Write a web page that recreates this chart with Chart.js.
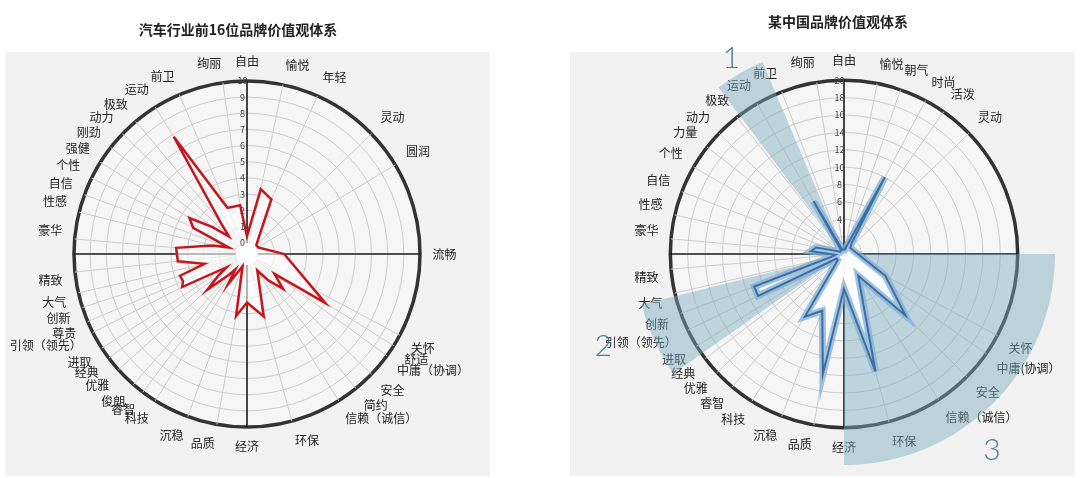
<!DOCTYPE html>
<html>
<head>
<meta charset="utf-8">
<script src="https://cdn.jsdelivr.net/npm/chart.js@4.4.1/dist/chart.umd.min.js"></script>
<style>
  html, body { margin: 0; padding: 0; background: #fff; }
  body { width: 1080px; height: 478px; position: relative; overflow: hidden; }
  .panel { position: absolute; top: 52px; height: 424px; background: #f2f2f2; }
  .box { position: absolute; top: 0; height: 478px; }
</style>
</head>
<body>
<div class="panel" style="left:5px;width:485px"></div>
<div class="panel" style="left:570px;width:505px"></div>
<div class="box" style="left:0;width:494px"><canvas id="leftChart"></canvas></div>
<div class="box" style="left:591px;width:480px"><canvas id="rightChart"></canvas></div>
<script>
// Data -----------------------------------------------------------

// 汽车行业前16位品牌 (angle = spoke direction, degrees clockwise from top)
const leftNames = ['自由', '愉悦', '年轻', '灵动', '圆润', '流畅', '关怀', '舒适', '中庸（协调）', '安全',
  '简约', '信赖（诚信）', '环保', '经济', '品质', '沉稳', '科技', '睿智', '俊朗', '优雅',
  '经典', '进取', '引领（领先）', '尊贵', '创新', '大气', '精致', '豪华', '性感', '自信',
  '个性', '强健', '刚劲', '动力', '极致', '运动', '前卫', '绚丽'];
const leftAngles = [0, 12, 24, 46, 59, 90, 118, 122, 126, 134,
  141, 148, 165, 180, 190, 200, 212, 217, 221, 228,
  233, 237, 243, 247, 252, 257, 264, 275, 284, 290,
  296, 302, 308, 314, 320, 328, 337, 352];
const leftValues = [0.4, 3.4, 3.0, 0.1, 0.1, 1.6, 4.0, 5.0, 1.4, 2.4,
  1.4, 0.5, 3.3, 2.3, 3.2, 0.1, 1.5, 0.5, 1.0, 2.6,
  1.5, 0.8, 3.8, 3.6, 3.65, 2.0, 3.6, 3.7, 1.5, 0.5,
  3.0, 3.5, 2.0, 0.85, 1.8, 7.85, 2.4, 2.35];
const leftTitle = '汽车行业前16位品牌价值观体系';

// 某中国品牌
const rightNames = ['自由', '愉悦', '朝气', '时尚', '活泼', '灵动', '关怀', '中庸(协调）', '安全', '信赖（诚信）',
  '环保', '经济', '品质', '沉稳', '科技', '睿智', '优雅', '经典', '进取', '引领（领先）',
  '创新', '大气', '精致', '豪华', '性感', '自信', '个性', '力量', '动力', '极致',
  '运动', '前卫', '绚丽'];
const rightAngles = [0, 11, 19, 28, 35, 46, 118, 125, 135, 147,
  165, 180, 190, 201, 212, 220, 227, 233, 238, 244,
  250, 257, 265, 275, 283, 291, 300, 308, 314, 322,
  330, 339, 351];
const rightValues = [0.5, 0.5, 1, 10, 1.5, 1, 5.4, 6.6, 10, 3,
  14, 4, 14, 7, 8.5, 1.5, 1, 1, 1, 11,
  11, 1.5, 1, 3.8, 3.3, 1, 0.5, 0.5, 0.5, 0.5,
  7, 0.5, 0.5];
const rightTitle = '某中国品牌价值观体系';

// highlighted sectors on the right chart: [from deg, to deg, outer value], with their note numbers
const sectorFrom = [323, 235, 90];
const sectorTo = [337, 256, 180];
const sectorReach = [24, 24, 24.3];
const sectorNotes = ['1', '2', '3'];
const noteAngles = [330, 249, 143];
const noteReach = [26, 29.7, 28.3];

// Helpers -------------------------------------------------------

const SLOTS = 360; // one slot per degree

function slotLabels(names, angles) {
  const arr = new Array(SLOTS).fill('');
  angles.forEach((a, i) => { arr[Math.round(a) % SLOTS] = names[i]; });
  return arr;
}

function slotValues(values, angles) {
  const arr = new Array(SLOTS).fill(null);
  angles.forEach((a, i) => { arr[Math.round(a) % SLOTS] = values[i]; });
  return arr;
}

function sectorValues(from, to, reach) {
  const arr = new Array(SLOTS).fill(0);
  for (let a = from; a <= to; a++) arr[a % SLOTS] = reach;
  return arr;
}

function isAxis(i) { return i % 90 === 0; }

const FONT = '"Noto Sans CJK SC", "Noto Sans", sans-serif';

// draws the plot disc background and the empty centre
const discPlugin = {
  id: 'disc',
  beforeDraw(chart, args, opts) {
    const s = chart.scales.r;
    const ctx = chart.ctx;
    ctx.save();
    ctx.fillStyle = '#f6f6f6';
    ctx.beginPath();
    ctx.arc(s.xCenter, s.yCenter, s.drawingArea, 0, Math.PI * 2);
    ctx.fill();
    ctx.restore();
  },
  beforeDatasetsDraw(chart, args, opts) {
    if (!opts.hole) return;
    const s = chart.scales.r;
    const ctx = chart.ctx;
    ctx.save();
    ctx.fillStyle = '#ffffff';
    ctx.beginPath();
    ctx.arc(s.xCenter, s.yCenter, s.getDistanceFromCenterForValue(0), 0, Math.PI * 2);
    ctx.fill();
    ctx.restore();
  }
};

// big numbers next to the highlighted sectors
const notePlugin = {
  id: 'notes',
  afterDatasetsDraw(chart, args, opts) {
    if (!opts.show) return;
    const s = chart.scales.r;
    const ctx = chart.ctx;
    ctx.save();
    ctx.fillStyle = '#4b7d93';
    ctx.font = '300 30px Lato, "Open Sans", sans-serif';
    ctx.textAlign = 'center';
    ctx.textBaseline = 'middle';
    sectorNotes.forEach((t, i) => {
      const p = s.getPointPosition(noteAngles[i], s.getDistanceFromCenterForValue(noteReach[i]));
      ctx.fillText(t, p.x, p.y);
    });
    ctx.restore();
  }
};

function makeScale(min, max, step, firstTick, names, angles) {
  const isCat = new Array(SLOTS).fill(false);
  angles.forEach(a => { isCat[Math.round(a) % SLOTS] = true; });
  return {
    min: min,
    max: max,
    beginAtZero: false,
    ticks: {
      stepSize: step,
      showLabelBackdrop: false,
      color: '#444',
      z: 1,
      font: { size: 9, family: FONT },
      callback: v => (v < firstTick ? '' : v + '\u2002\u2002')
    },
    grid: {
      circular: true,
      color: c => (c.tick && c.tick.value === max ? '#333333' : '#cdcdcd'),
      lineWidth: c => (c.tick && c.tick.value === max ? 3.5 : 1)
    },
    angleLines: {
      color: c => (isAxis(c.index) ? '#1a1a1a' : (isCat[c.index] ? '#cdcdcd' : 'rgba(0,0,0,0)')),
      lineWidth: c => (isAxis(c.index) ? 1.6 : (isCat[c.index] ? 1 : 0))
    },
    pointLabels: {
      color: '#222',
      padding: 6,
      font: { size: 12, family: FONT }
    }
  };
}

function baseOptions(title, scale, padding, hole, notes) {
  return {
    responsive: true,
    maintainAspectRatio: false,
    animation: false,
    layout: { padding: padding },
    elements: { point: { radius: 0, hoverRadius: 0 }, line: { tension: 0 } },
    scales: { r: scale },
    plugins: {
      legend: { display: false },
      tooltip: { enabled: false },
      title: {
        display: true,
        text: title,
        color: '#222',
        font: { size: 14, weight: 'bold', family: FONT },
        padding: { top: 16, bottom: 8 }
      },
      disc: { hole: hole },
      notes: { show: notes }
    }
  };
}

// Left chart ------------------------------------------------------

const leftChart = new Chart(document.getElementById('leftChart'), {
  type: 'radar',
  data: {
    labels: slotLabels(leftNames, leftAngles),
    datasets: [{
      data: slotValues(leftValues, leftAngles),
      spanGaps: true,
      borderColor: '#c4161c',
      borderWidth: 2.5,
      backgroundColor: 'rgba(255,255,255,0.6)',
      fill: true
    }]
  },
  options: baseOptions(leftTitle, makeScale(-0.7, 10, 1, 0, leftNames, leftAngles),
    { top: 5, bottom: 15, left: 0, right: 18 }, true, false),
  plugins: [discPlugin, notePlugin]
});

// Right chart -----------------------------------------------------

const rightSets = [{
  data: slotValues(rightValues, rightAngles),
  spanGaps: true,
  borderColor: '#3b6ea6',
  borderWidth: 2,
  fill: false
}, {
  data: slotValues(rightValues, rightAngles),
  spanGaps: true,
  borderColor: 'rgba(130,175,210,0.75)',
  borderWidth: 7,
  backgroundColor: 'rgba(255,255,255,0.95)',
  fill: true
}];
sectorFrom.forEach((f, i) => {
  rightSets.push({
    data: sectorValues(f, sectorTo[i], sectorReach[i]),
    borderWidth: 0,
    backgroundColor: 'rgba(122,170,190,0.45)',
    fill: true,
    clip: false
  });
});

// leading spaces nudge the title over the panel centre (labels push the plot right)
const rightChart = new Chart(document.getElementById('rightChart'), {
  type: 'radar',
  data: { labels: slotLabels(rightNames, rightAngles), datasets: rightSets },
  options: baseOptions('\u2002\u2002' + rightTitle, makeScale(0, 20, 2, 4, rightNames, rightAngles),
    { top: -3, bottom: 7, left: 0, right: 0 }, false, true),
  plugins: [discPlugin, notePlugin]
});
</script>
</body>
</html>
